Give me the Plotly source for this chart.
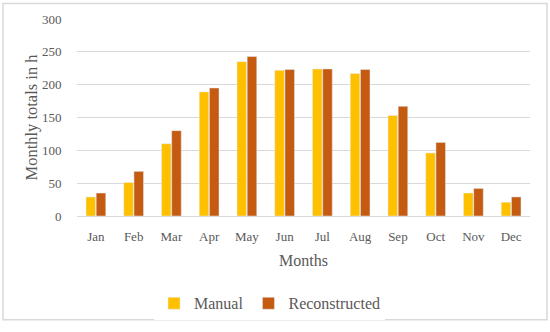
import plotly.graph_objects as go

months = ["Jan", "Feb", "Mar", "Apr", "May", "Jun", "Jul", "Aug", "Sep", "Oct", "Nov", "Dec"]
manual = [29, 51, 110, 189, 235, 222, 224, 217, 153, 96, 35, 21]
reconstructed = [35, 68, 130, 195, 243, 223, 224, 223, 167, 112, 42, 29]

FONT = "Palatino Linotype, Book Antiqua, Palatino, Liberation Serif, serif"
GRAY = "#595959"

fig = go.Figure()
fig.add_trace(go.Bar(name="Manual", x=months, y=manual, marker=dict(color="#FFC000")))
fig.add_trace(go.Bar(name="Reconstructed", x=months, y=reconstructed, marker=dict(color="#C55A11")))

L, R, T, B = 77, 20, 19, 110
W, H = 550, 332
pw, ph = W - L - R, H - T - B

fig.update_layout(
    width=W, height=H,
    margin=dict(l=L, r=R, t=T, b=B),
    paper_bgcolor="white", plot_bgcolor="white",
    barmode="group", bargap=0.46, bargroupgap=0.06,
    font=dict(family=FONT, color=GRAY, size=13),
    showlegend=True,
    legend=dict(orientation="h", x=0.425, xanchor="center", y=(T + ph - 312) / ph, yanchor="middle",
                font=dict(size=16, color=GRAY, family=FONT), itemwidth=30, traceorder="normal"),
    xaxis=dict(showgrid=False, showline=False, ticks="outside", ticklen=8, tickcolor="rgba(0,0,0,0)",
               tickfont=dict(size=13, color=GRAY),
               title=dict(text="Months", font=dict(size=16, color=GRAY), standoff=12)),
    yaxis=dict(range=[0, 300], dtick=50, showgrid=True, gridcolor="#D9D9D9", gridwidth=1,
               zeroline=True, zerolinecolor="#D9D9D9", zerolinewidth=1, showline=False,
               ticks="outside", ticklen=12, tickcolor="rgba(0,0,0,0)",
               tickfont=dict(size=13, color=GRAY),
               title=dict(text="Monthly totals in h", font=dict(size=16.5, color=GRAY), standoff=0)),
    shapes=[dict(type="rect", xref="paper", yref="paper",
                 x0=(3 - L) / pw, x1=(547 - L) / pw,
                 y0=(T + ph - 329) / ph, y1=(T + ph - 3) / ph,
                 line=dict(color="#D9D9D9", width=1.5), layer="below")],
)

fig.write_html("out.html", config={"displayModeBar": False},
               post_script="document.body.style.margin='0';document.body.style.overflow='hidden';")
